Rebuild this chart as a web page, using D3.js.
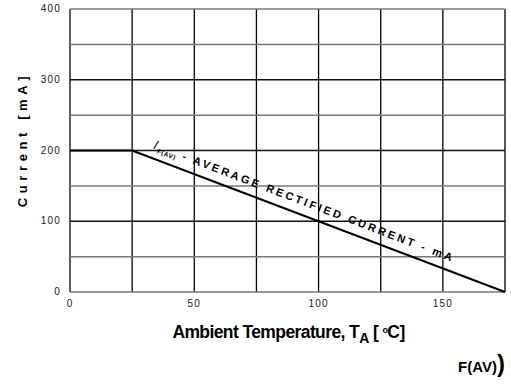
<!DOCTYPE html>
<html>
<head>
<meta charset="utf-8">
<script src="https://cdn.jsdelivr.net/npm/d3@7"></script>
<style>
  body { margin: 0; background: #fff; }
  svg { font-family: "Liberation Sans", Arial, sans-serif; }
</style>
</head>
<body>
<div id="chart"></div>
<script>
// derating curve data
var tempPoints = [0, 25, 175];
var currentPoints = [200, 200, 0];
var xTicks = [0, 50, 100, 150];
var yTicks = [0, 100, 200, 300, 400];
var xGrid = [0, 25, 50, 75, 100, 125, 150, 175];
var yGrid = [0, 50, 100, 150, 200, 250, 300, 350, 400];

var margin = { left: 70, right: 6, top: 9, bottom: 93 };
var width = 511 - margin.left - margin.right,
    height = 385 - margin.top - margin.bottom;

var svg = d3.select("#chart")
    .append("svg")
        .attr("width", 511)
        .attr("height", 385)
    .append("g")
        .attr("transform", "translate(" + margin.left + "," + margin.top + ")");

var x = d3.scaleLinear().domain([0, 175]).range([0, width]);
var y = d3.scaleLinear().domain([0, 400]).range([height, 0]);

// grid
svg.append("g").selectAll("line.v")
    .data(xGrid)
    .enter().append("line")
        .attr("x1", function(d){ return x(d); })
        .attr("x2", function(d){ return x(d); })
        .attr("y1", 0)
        .attr("y2", height)
        .style("stroke", "#000")
        .style("stroke-width", 1.3);

svg.append("g").selectAll("line.h")
    .data(yGrid)
    .enter().append("line")
        .attr("x1", 0)
        .attr("x2", width)
        .attr("y1", function(d){ return y(d); })
        .attr("y2", function(d){ return y(d); })
        .style("stroke", function(d){ return (d % 100 == 0 && d > 0 && d < 400) ? "#111" : "#777"; })
        .style("stroke-width", 1.5);

// tick labels
svg.append("g").selectAll("text")
    .data(xTicks)
    .enter().append("text")
        .attr("x", function(d){ return x(d); })
        .attr("y", height + 15)
        .attr("text-anchor", "middle")
        .attr("font-size", "10px")
        .style("letter-spacing", "1.2px")
        .style("fill", "#222")
        .text(function(d){ return d; });

svg.append("g").selectAll("text")
    .data(yTicks)
    .enter().append("text")
        .attr("x", -9)
        .attr("y", function(d){ return y(d) + 3; })
        .attr("text-anchor", "end")
        .attr("font-size", "10px")
        .style("letter-spacing", "1.2px")
        .style("fill", "#222")
        .text(function(d){ return d; });

// curve
var line = d3.line()
    .x(function(d){ return x(d[0]); })
    .y(function(d){ return y(d[1]); });

var pts = tempPoints.map(function(t, i){ return [t, currentPoints[i]]; });

svg.append("path")
    .datum(pts)
    .attr("d", line)
    .style("fill", "none")
    .style("stroke", "#000")
    .style("stroke-width", 2.2);

// label path follows the sloped segment, a little above it
var labelLine = d3.line()
    .x(function(d){ return x(d[0]); })
    .y(function(d){ return y(d[1]) - 10; });

svg.append("defs").append("path")
    .attr("id", "labelPath")
    .attr("d", labelLine(pts.slice(1)));

var label = svg.append("text")
    .attr("font-size", "11px")
    .attr("font-weight", "bold")
    .style("letter-spacing", "2.65px")
    .append("textPath")
        .attr("href", "#labelPath")
        .attr("startOffset", 22);

label.append("tspan").attr("font-style", "italic").attr("font-size", "13px").attr("font-weight", "normal").style("letter-spacing", "1.5px").text("I");
label.append("tspan").attr("font-size", "6.5px").attr("dy", 3).style("letter-spacing", "0.6px").text("F(AV)");
label.append("tspan").attr("dy", -3).text(" - AVERAGE RECTIFIED CURRENT - mA");

// axis titles
svg.append("text")
    .attr("transform", "rotate(-90)")
    .attr("x", -(y(200) - 11))
    .attr("y", -43)
    .attr("text-anchor", "middle")
    .attr("font-size", "13px")
    .attr("font-weight", "bold")
    .style("letter-spacing", "4.6px")
    .text("Current  [mA]");

var xt = svg.append("text")
    .attr("x", x(87.5) + 1)
    .attr("y", height + 46)
    .attr("text-anchor", "middle")
    .attr("font-size", "17.5px")
    .attr("font-weight", "bold")
    .style("letter-spacing", "-0.6px");
xt.append("tspan").text("Ambient Temperature, T");
xt.append("tspan").attr("dy", 5).attr("font-size", "14px").text("A");
xt.append("tspan").attr("dy", -5).text(" [ ");
xt.append("tspan").attr("dy", -5).attr("font-size", "9px").text("o");
xt.append("tspan").attr("dy", 5).text("C]");

var fav = svg.append("text")
    .attr("x", width)
    .attr("y", height + 80)
    .attr("text-anchor", "end")
    .attr("font-weight", "bold");
fav.append("tspan").attr("font-size", "15px").style("letter-spacing", "0px").text("F(AV)");
fav.append("tspan").attr("font-size", "24px").text(")");
</script>
</body>
</html>
